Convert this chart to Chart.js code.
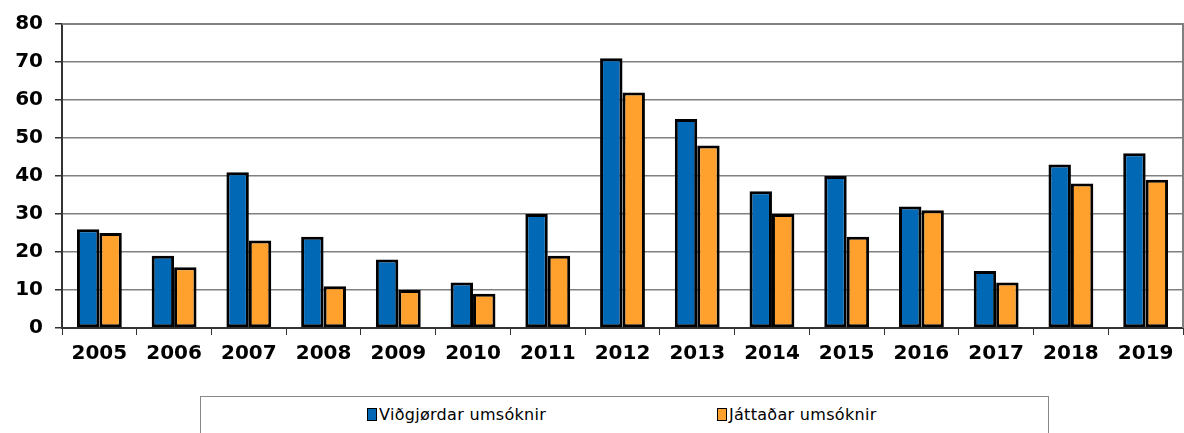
<!DOCTYPE html>
<html>
<head>
<meta charset="utf-8">
<script src="https://cdn.jsdelivr.net/npm/chart.js@4"></script>
<style>
  body { margin: 0; background: #fff; width: 1184px; height: 433px; overflow: hidden; position: relative; }
  #wrap { position: absolute; left: 0; top: 0; width: 1184px; height: 390px; }
  #legend {
    position: absolute; left: 200px; top: 396px; width: 849px; height: 60px;
    border: 1px solid #888; box-sizing: border-box;
    font-family: "DejaVu Sans", Verdana, sans-serif; font-size: 16px; color: #000;
    letter-spacing: 0.3px;
  }
  .item { position: absolute; top: 8px; }
  .sw { display: inline-block; width: 8px; height: 11px; border: 1.5px solid #000; margin-right: 2px; vertical-align: -1px; }
</style>
</head>
<body>
<div id="wrap"><canvas id="chart"></canvas></div>
<div id="legend">
  <span class="item" style="left:166px"><span class="sw" style="background:#0068B4"></span>Viðgjørdar umsóknir</span>
  <span class="item" style="left:516px"><span class="sw" style="background:#FFA12C"></span>Játtaðar umsóknir</span>
</div>
<script>
// Ár og tøl
const years = ['2005','2006','2007','2008','2009','2010','2011','2012','2013','2014','2015','2016','2017','2018','2019'];
const vidgjordar = [26, 19, 41, 24, 18, 12, 30, 71, 55, 36, 40, 32, 15, 43, 46];
const jattadar = [25, 16, 23, 11, 10, 9, 19, 62, 48, 30, 24, 31, 12, 38, 39];

// Ramma um plottøkið (ovast og til høgru)
const frame = {
  id: 'frame',
  afterDraw(chart) {
    const { ctx, chartArea: a } = chart;
    ctx.save();
    ctx.strokeStyle = '#808080';
    ctx.lineWidth = 2;
    ctx.beginPath();
    ctx.moveTo(a.left, a.top);
    ctx.lineTo(a.right, a.top);
    ctx.lineTo(a.right, a.bottom);
    ctx.stroke();
    ctx.restore();
  }
};

const ctx = document.getElementById('chart').getContext('2d');
new Chart(ctx, {
  type: 'bar',
  data: {
    labels: years,
    datasets: [
      { label: 'Viðgjørdar umsóknir', data: vidgjordar, backgroundColor: '#0068B4', borderColor: '#000', borderWidth: 3, borderSkipped: false },
      { label: 'Játtaðar umsóknir', data: jattadar, backgroundColor: '#FFA12C', borderColor: '#000', borderWidth: 3, borderSkipped: false }
    ]
  },
  options: {
    responsive: true,
    maintainAspectRatio: false,
    animation: false,
    layout: { padding: { top: 19, right: 1, left: 0, bottom: 0 } },
    datasets: { bar: { categoryPercentage: 0.6, barPercentage: 1 } },
    plugins: { legend: { display: false }, tooltip: { enabled: false } },
    scales: {
      x: {
        grid: { display: true, drawOnChartArea: false, offset: true, tickLength: 7, color: '#333', lineWidth: 1 },
        border: { color: '#333', width: 2 },
        ticks: { color: '#000', padding: 7, font: { family: 'DejaVu Sans', size: 20, weight: 'bold' }, maxRotation: 0 },
        afterFit(s) { s.height = 62; }
      },
      y: {
        min: 0, max: 80,
        grid: { color: '#808080', lineWidth: 1.5, tickLength: 7, tickColor: '#333' },
        border: { color: '#333', width: 2 },
        ticks: { stepSize: 10, color: '#000', padding: 12, font: { family: 'DejaVu Sans', size: 20, weight: 'bold' } },
        afterFit(s) { s.width = 62; }
      }
    }
  },
  plugins: [frame]
});
</script>
</body>
</html>
